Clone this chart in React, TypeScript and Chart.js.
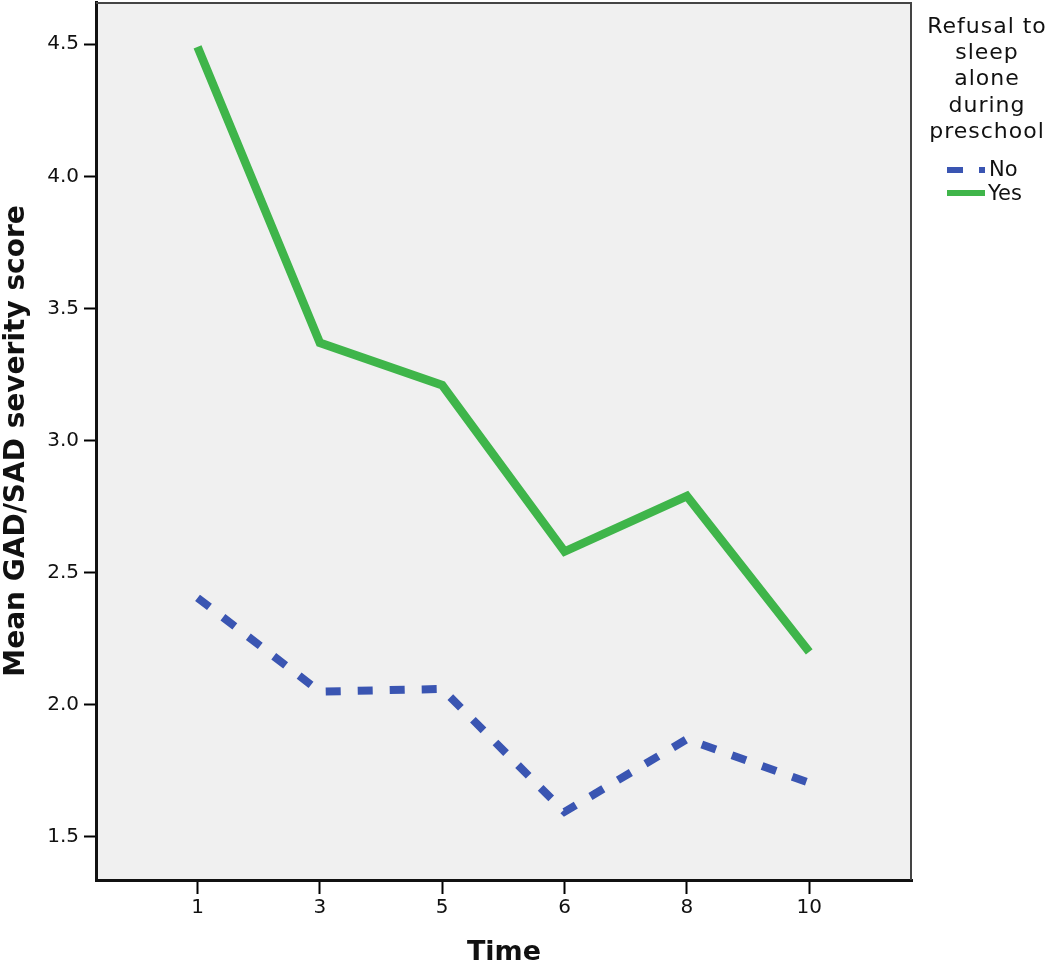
import React, { useEffect, useRef } from "react";
import { Chart, registerables } from "chart.js";

Chart.register(...registerables);

const timeLabels = ["1", "3", "5", "6", "8", "10"];
const noValues = [2.405, 2.05, 2.06, 1.595, 1.87, 1.705];
const yesValues = [4.49, 3.37, 3.21, 2.58, 2.79, 2.2];
const yTicks = [1.5, 2.0, 2.5, 3.0, 3.5, 4.0, 4.5];
const legendTitle = ["Refusal to", "sleep", "alone", "during", "preschool"];
const seriesNames = ["No", "Yes"];

const BLUE = "#3a55b2";
const GREEN = "#3fb54a";
const FONT = "'DejaVu Sans', Verdana, sans-serif";

export default function App() {
  const ref = useRef<HTMLCanvasElement | null>(null);

  useEffect(() => {
    document.body.style.margin = "0";
    const canvas = ref.current!;
    const bgPlugin = {
      id: "bgPlugin",
      beforeDraw(chart: any) {
        const { ctx, chartArea: a } = chart;
        ctx.save();
        ctx.fillStyle = "#f0f0f0";
        ctx.fillRect(a.left, a.top, a.right - a.left, a.bottom - a.top);
        ctx.restore();
      },
      afterDraw(chart: any) {
        const { ctx, chartArea: a } = chart;
        ctx.save();
        ctx.strokeStyle = "#444";
        ctx.lineWidth = 2;
        ctx.beginPath();
        ctx.moveTo(a.left, a.top + 1);
        ctx.lineTo(a.right - 1, a.top + 1);
        ctx.lineTo(a.right - 1, a.bottom);
        ctx.stroke();
        // legend
        ctx.fillStyle = "#111";
        ctx.font = `22px ${FONT}`;
        try {
          (ctx as any).letterSpacing = "1px";
        } catch (e) {}
        ctx.textAlign = "center";
        ctx.textBaseline = "middle";
        const cx = 987;
        legendTitle.forEach((t, i) => ctx.fillText(t, cx, 27 + i * 26.3));
        try {
          (ctx as any).letterSpacing = "0px";
        } catch (e) {}
        // No swatch
        ctx.lineWidth = 6;
        ctx.strokeStyle = BLUE;
        ctx.beginPath();
        ctx.moveTo(947, 170);
        ctx.lineTo(963, 170);
        ctx.moveTo(979, 170);
        ctx.lineTo(985, 170);
        ctx.stroke();
        ctx.strokeStyle = GREEN;
        ctx.beginPath();
        ctx.moveTo(947, 193);
        ctx.lineTo(985, 193);
        ctx.stroke();
        ctx.fillStyle = "#111";
        ctx.textAlign = "left";
        ctx.font = `21px ${FONT}`;
        ctx.fillText(seriesNames[0], 989, 171);
        ctx.fillText(seriesNames[1], 988, 195);
        ctx.restore();
      },
    };

    const chart = new Chart(canvas, {
      type: "line",
      data: {
        datasets: [
          {
            label: seriesNames[0],
            data: noValues.map((v, i) => ({ x: i, y: v })),
            borderColor: BLUE,
            borderWidth: 8,
            borderDash: [15, 17],
            borderCapStyle: "butt",
            pointRadius: 0,
            tension: 0,
          },
          {
            label: seriesNames[1],
            data: yesValues.map((v, i) => ({ x: i, y: v })),
            borderColor: GREEN,
            borderWidth: 8.5,
            pointRadius: 0,
            tension: 0,
          },
        ],
      },
      plugins: [bgPlugin],
      options: {
        animation: false,
        responsive: false,
        layout: { padding: { top: 2, right: 138, left: 0, bottom: 0 } },
        plugins: { legend: { display: false }, tooltip: { enabled: false } },
        scales: {
          x: {
            type: "linear",
            min: -0.83,
            max: 5.84,
            afterBuildTicks: (s: any) => {
              s.ticks = timeLabels.map((_, i) => ({ value: i }));
            },
            afterFit: (s: any) => {
              s.height = 86;
              s.paddingLeft = 0;
              s.paddingRight = 0;
            },
            ticks: {
              callback: (v: any) => timeLabels[v as number] ?? "",
              color: "#111",
              font: { family: FONT, size: 20 },
              padding: 2,
              maxRotation: 0,
            },
            grid: {
              drawOnChartArea: false,
              drawTicks: true,
              tickLength: 14,
              tickColor: "#000",
              tickWidth: 2,
            },
            border: { display: true, color: "#111", width: 3 },
            title: {
              display: true,
              text: "Time",
              color: "#111",
              font: { family: FONT, size: 27, weight: "bold" },
              padding: { top: 0, bottom: -3 },
            },
          },
          y: {
            type: "linear",
            min: 1.337,
            max: 4.66,
            afterBuildTicks: (s: any) => {
              s.ticks = yTicks.map((v) => ({ value: v }));
            },
            afterFit: (s: any) => {
              s.width = 96;
              s.paddingTop = 0;
              s.paddingBottom = 0;
            },
            ticks: {
              callback: (v: any) => Number(v).toFixed(1),
              color: "#111",
              font: { family: FONT, size: 20 },
              padding: 5,
            },
            grid: {
              drawOnChartArea: false,
              drawTicks: true,
              tickLength: 12,
              tickColor: "#000",
              tickWidth: 2,
            },
            border: { display: true, color: "#111", width: 3 },
            title: {
              display: true,
              text: "Mean GAD/SAD severity score",
              color: "#111",
              font: { family: FONT, size: 28, weight: "bold" },
              padding: { top: 0, bottom: 0 },
            },
          },
        },
      },
    } as any);
    return () => chart.destroy();
  }, []);

  return (
    <div style={{ width: 1050, height: 966 }}>
      <canvas ref={ref} width={1050} height={966} style={{ display: "block" }} />
    </div>
  );
}
